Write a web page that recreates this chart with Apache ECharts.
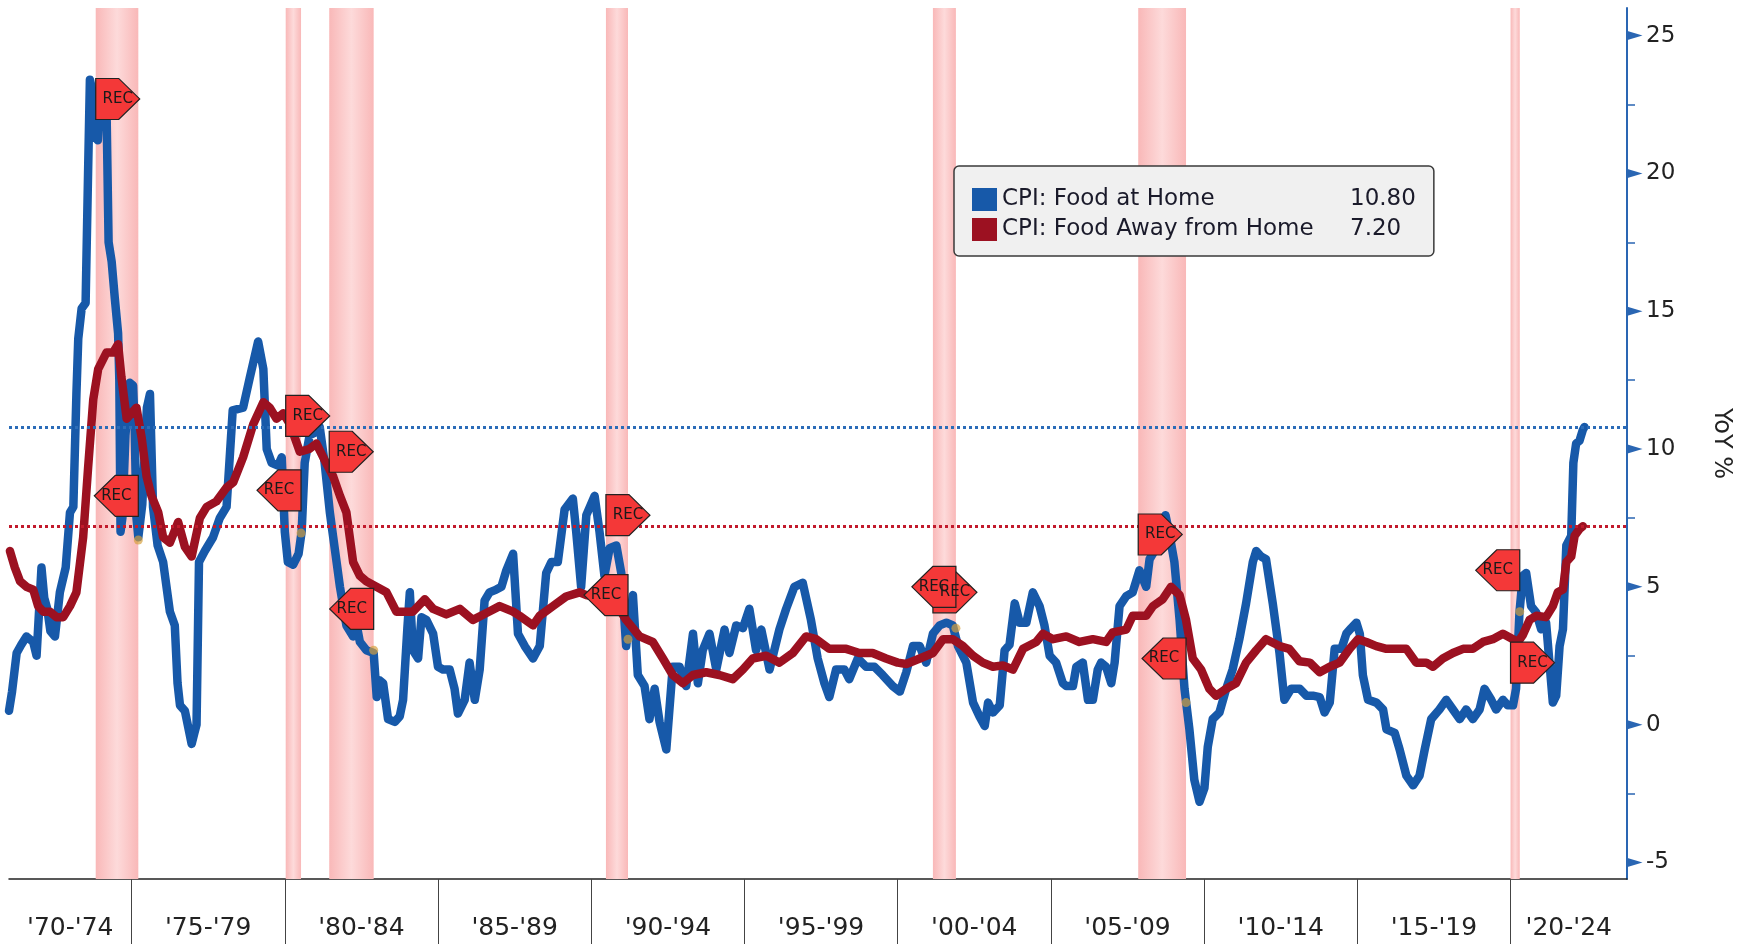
<!DOCTYPE html>
<html><head><meta charset="utf-8">
<script src="https://cdn.jsdelivr.net/npm/echarts@6/dist/echarts.min.js"></script>
<style>html,body{margin:0;padding:0;background:#fff}#c{width:1750px;height:944px}</style>
</head><body><div id="c"></div>
<script>
const seriesNames = ['CPI: Food at Home', 'CPI: Food Away from Home'];

const foodAtHome = [[1971.0,0.5],[1971.1,1.2],[1971.25,2.6],[1971.4,2.9],[1971.57,3.2],[1971.79,3.0],[1971.9,2.5],[1972.0,4.5],[1972.06,5.7],[1972.15,4.6],[1972.25,4.2],[1972.35,3.4],[1972.5,3.2],[1972.66,4.8],[1972.85,5.7],[1972.99,7.7],[1973.1,7.9],[1973.2,12.0],[1973.26,14.0],[1973.37,15.1],[1973.5,15.3],[1973.58,20.0],[1973.64,23.4],[1973.72,23.0],[1973.82,21.3],[1973.9,21.2],[1973.97,22.8],[1974.1,22.9],[1974.18,22.5],[1974.25,17.5],[1974.35,16.8],[1974.45,15.5],[1974.56,14.2],[1974.6,12.5],[1974.64,7.0],[1974.7,7.5],[1974.8,10.5],[1974.94,12.4],[1975.05,12.3],[1975.1,10.8],[1975.16,7.5],[1975.22,6.8],[1975.35,8.0],[1975.5,11.5],[1975.6,12.0],[1975.7,7.9],[1975.85,6.5],[1976.03,5.9],[1976.25,4.1],[1976.41,3.6],[1976.5,1.5],[1976.58,0.7],[1976.74,0.5],[1976.96,-0.7],[1977.05,-0.3],[1977.12,0.0],[1977.2,5.9],[1977.39,6.3],[1977.66,6.8],[1977.88,7.5],[1978.1,7.9],[1978.3,11.4],[1978.64,11.5],[1978.86,12.6],[1979.13,13.9],[1979.3,12.9],[1979.41,10.0],[1979.57,9.5],[1979.78,9.4],[1979.9,9.7],[1980.0,7.0],[1980.1,5.9],[1980.27,5.8],[1980.45,6.2],[1980.55,7.0],[1980.65,9.5],[1980.81,10.5],[1981.0,10.6],[1981.14,10.8],[1981.3,9.5],[1981.47,7.7],[1981.58,6.8],[1981.8,5.0],[1982.01,3.6],[1982.23,3.2],[1982.35,3.6],[1982.45,3.0],[1982.66,2.7],[1982.9,2.6],[1983.0,1.0],[1983.1,1.6],[1983.21,1.5],[1983.37,0.2],[1983.59,0.1],[1983.75,0.3],[1983.86,0.9],[1984.0,3.5],[1984.08,4.8],[1984.18,2.7],[1984.35,2.4],[1984.46,3.9],[1984.62,3.8],[1984.84,3.3],[1985.0,2.1],[1985.16,2.0],[1985.38,2.0],[1985.54,1.3],[1985.65,0.4],[1985.87,0.9],[1986.03,2.25],[1986.2,0.9],[1986.36,2.0],[1986.52,4.5],[1986.68,4.8],[1986.9,4.9],[1987.07,5.0],[1987.23,5.6],[1987.45,6.2],[1987.61,3.3],[1987.83,2.85],[1988.1,2.4],[1988.32,2.85],[1988.53,5.5],[1988.7,5.9],[1988.91,5.9],[1989.13,7.8],[1989.4,8.2],[1989.51,7.0],[1989.67,5.0],[1989.84,7.6],[1990.11,8.3],[1990.27,7.0],[1990.43,5.4],[1990.6,6.4],[1990.82,6.5],[1990.98,5.5],[1991.14,2.85],[1991.36,4.7],[1991.52,1.8],[1991.74,1.4],[1991.9,0.2],[1992.07,1.3],[1992.23,0.1],[1992.45,-0.9],[1992.66,2.1],[1992.88,2.1],[1993.1,1.4],[1993.32,3.3],[1993.48,1.5],[1993.64,2.7],[1993.86,3.3],[1994.08,2.0],[1994.35,3.45],[1994.51,2.6],[1994.73,3.6],[1994.95,3.5],[1995.16,4.2],[1995.38,2.7],[1995.55,3.45],[1995.82,2.0],[1996.14,3.45],[1996.36,4.2],[1996.63,5.0],[1996.9,5.15],[1997.17,3.8],[1997.39,2.4],[1997.61,1.5],[1997.77,1.0],[1997.99,2.0],[1998.26,2.0],[1998.42,1.65],[1998.7,2.4],[1998.97,2.1],[1999.24,2.1],[1999.51,1.8],[1999.84,1.4],[2000.07,1.2],[2000.28,1.9],[2000.5,2.85],[2000.72,2.85],[2000.93,2.25],[2001.15,3.3],[2001.37,3.6],[2001.59,3.7],[2001.8,3.6],[2001.97,2.85],[2002.24,2.25],[2002.46,0.8],[2002.67,0.3],[2002.84,-0.05],[2002.95,0.8],[2003.11,0.44],[2003.33,0.7],[2003.49,2.7],[2003.65,2.9],[2003.82,4.4],[2003.98,3.7],[2004.2,3.7],[2004.41,4.8],[2004.63,4.3],[2004.79,3.6],[2004.96,2.5],[2005.17,2.25],[2005.39,1.5],[2005.5,1.4],[2005.72,1.4],[2005.83,2.1],[2006.04,2.25],[2006.21,0.9],[2006.37,0.9],[2006.53,2.0],[2006.64,2.25],[2006.8,2.1],[2006.97,1.5],[2007.08,2.25],[2007.24,4.3],[2007.46,4.66],[2007.67,4.8],[2007.89,5.6],[2008.11,5.0],[2008.22,6.0],[2008.43,6.4],[2008.6,6.5],[2008.74,7.6],[2008.87,6.9],[2009.03,5.9],[2009.2,3.8],[2009.36,1.3],[2009.52,-0.17],[2009.68,-2.0],[2009.85,-2.8],[2010.01,-2.3],[2010.12,-0.8],[2010.28,0.2],[2010.5,0.44],[2010.72,1.3],[2010.93,2.0],[2011.15,3.1],[2011.37,4.4],[2011.59,5.9],[2011.7,6.3],[2011.86,6.1],[2012.02,6.0],[2012.24,4.4],[2012.46,2.6],[2012.62,0.9],[2012.84,1.3],[2013.12,1.3],[2013.34,1.05],[2013.55,1.05],[2013.77,1.0],[2013.93,0.44],[2014.1,0.8],[2014.26,2.75],[2014.48,2.75],[2014.64,3.3],[2014.8,3.5],[2014.97,3.7],[2015.08,3.3],[2015.18,1.8],[2015.35,0.9],[2015.62,0.8],[2015.84,0.55],[2015.95,-0.17],[2016.22,-0.3],[2016.38,-0.9],[2016.6,-1.85],[2016.82,-2.2],[2017.03,-1.85],[2017.2,-0.9],[2017.41,0.2],[2017.68,0.55],[2017.9,0.9],[2018.12,0.55],[2018.34,0.2],[2018.55,0.55],[2018.77,0.2],[2018.99,0.55],[2019.15,1.3],[2019.37,0.9],[2019.53,0.55],[2019.75,0.9],[2019.91,0.7],[2020.08,0.7],[2020.18,1.3],[2020.29,4.06],[2020.4,5.4],[2020.51,5.5],[2020.67,4.3],[2020.84,4.06],[2021.0,3.46],[2021.16,3.7],[2021.27,2.25],[2021.38,0.8],[2021.49,1.05],[2021.6,2.85],[2021.71,3.46],[2021.82,6.5],[2021.98,6.85],[2022.05,9.5],[2022.14,10.2],[2022.25,10.3],[2022.36,10.7],[2022.41,10.8]];

const foodAwayFromHome = [[1971.03,6.3],[1971.19,5.7],[1971.36,5.2],[1971.57,5.0],[1971.79,4.9],[1971.95,4.3],[1972.12,4.1],[1972.33,4.1],[1972.55,3.9],[1972.77,3.9],[1972.99,4.3],[1973.2,4.8],[1973.42,6.8],[1973.58,9.3],[1973.75,11.8],[1973.91,12.9],[1974.18,13.5],[1974.4,13.5],[1974.56,13.8],[1974.67,12.6],[1974.84,11.1],[1975.0,11.3],[1975.16,11.5],[1975.33,10.4],[1975.49,9.0],[1975.65,8.3],[1975.87,7.7],[1976.03,6.8],[1976.25,6.6],[1976.52,7.35],[1976.74,6.45],[1976.96,6.1],[1977.23,7.5],[1977.45,7.9],[1977.77,8.1],[1978.1,8.6],[1978.32,8.8],[1978.64,9.7],[1978.97,10.9],[1979.3,11.7],[1979.51,11.5],[1979.73,11.1],[1979.95,11.3],[1980.17,10.9],[1980.49,9.9],[1980.8,10.0],[1981.03,10.2],[1981.3,9.6],[1981.58,9.0],[1981.8,8.3],[1982.01,7.7],[1982.23,5.9],[1982.45,5.4],[1982.66,5.2],[1982.99,5.0],[1983.32,4.8],[1983.64,4.1],[1983.97,4.1],[1984.18,4.1],[1984.57,4.55],[1984.84,4.2],[1985.27,4.0],[1985.71,4.2],[1986.14,3.8],[1986.58,4.05],[1987.01,4.3],[1987.45,4.1],[1987.66,3.95],[1988.1,3.6],[1988.32,3.95],[1988.75,4.3],[1989.18,4.65],[1989.62,4.8],[1989.84,4.7],[1990.27,4.6],[1990.71,4.55],[1991.14,3.8],[1991.58,3.2],[1992.01,3.0],[1992.34,2.4],[1992.66,1.8],[1992.99,1.5],[1993.32,1.8],[1993.75,1.9],[1994.18,1.8],[1994.62,1.65],[1994.95,2.0],[1995.27,2.4],[1995.71,2.5],[1996.14,2.25],[1996.58,2.6],[1997.01,3.2],[1997.34,3.1],[1997.77,2.75],[1998.32,2.75],[1998.75,2.6],[1999.18,2.6],[1999.62,2.4],[2000.0,2.25],[2000.28,2.2],[2000.72,2.4],[2001.15,2.6],[2001.48,3.1],[2001.8,3.1],[2002.13,2.85],[2002.46,2.5],[2002.78,2.25],[2003.11,2.1],[2003.43,2.15],[2003.76,2.0],[2004.09,2.75],[2004.52,3.0],[2004.74,3.3],[2005.07,3.1],[2005.5,3.2],[2005.93,3.0],[2006.37,3.1],[2006.8,3.0],[2007.02,3.35],[2007.46,3.45],[2007.67,3.95],[2008.11,3.95],[2008.33,4.3],[2008.65,4.55],[2008.92,5.0],[2009.2,4.7],[2009.41,3.8],[2009.63,2.4],[2009.9,2.0],[2010.17,1.3],[2010.39,1.05],[2010.72,1.3],[2011.04,1.5],[2011.37,2.25],[2011.7,2.7],[2012.02,3.1],[2012.46,2.85],[2012.78,2.75],[2013.11,2.3],[2013.45,2.25],[2013.77,1.9],[2014.1,2.1],[2014.42,2.25],[2014.75,2.75],[2015.02,3.1],[2015.29,3.0],[2015.62,2.85],[2015.95,2.75],[2016.27,2.75],[2016.6,2.75],[2016.92,2.25],[2017.25,2.25],[2017.47,2.1],[2017.79,2.4],[2018.12,2.6],[2018.45,2.75],[2018.77,2.75],[2019.1,3.0],[2019.42,3.1],[2019.75,3.3],[2020.08,3.1],[2020.24,3.0],[2020.4,3.25],[2020.62,3.8],[2020.84,3.95],[2021.16,3.9],[2021.38,4.3],[2021.54,4.8],[2021.71,4.9],[2021.82,5.9],[2021.98,6.1],[2022.09,6.85],[2022.25,7.1],[2022.36,7.2]];

// recession periods [start, end] (decimal years)
const recessions = [[1973.83,1975.22],[1980.03,1980.53],[1981.45,1982.9],[1990.48,1991.2],[2001.15,2001.9],[2007.85,2009.41],[2020.0,2020.3]];
// REC flags: [anchor year, value, direction]
const recFlags = [[1973.83,22.7,'R'],[1975.22,8.3,'L'],[1980.03,11.2,'R'],[1980.53,8.5,'L'],[1981.45,9.9,'R'],[1982.9,4.2,'L'],[1990.48,7.6,'R'],[1991.2,4.7,'L'],[2001.15,4.8,'R'],[2001.9,5.0,'L'],[2007.85,6.9,'R'],[2009.41,2.4,'L'],[2020.0,2.25,'R'],[2020.3,5.6,'L']];
// event dots at recession ends
const recEndDots = [[1975.22,6.7],[1980.53,6.95],[1982.9,2.7],[1991.2,3.1],[2001.9,3.5],[2009.41,0.8],[2020.3,4.1]];

const periodStarts = [1970,1975,1980,1985,1990,1995,2000,2005,2010,2015,2020];
const periodLabels = ["'70-'74","'75-'79","'80-'84","'85-'89","'90-'94","'95-'99","'00-'04","'05-'09","'10-'14","'15-'19","'20-'24"];
const yMajorTicks = [-5,0,5,10,15,20,25];
const yMinorTicks = [-2.5,2.5,7.5,12.5,17.5,22.5];

const X_MIN = 1971, X_MAX = 2023.8, Y_MIN = -5.6, Y_MAX = 26;
const BLUE = '#1759a9', RED = '#9c1121', AXIS_BLUE = '#2a66b3';
const FONT = 'DejaVu Sans';

const separators = periodStarts.filter(s => s > X_MIN && s < X_MAX);
const labelCenters = periodStarts.map(s => (Math.max(s, X_MIN) + Math.min(s + 5, X_MAX)) / 2);

const lastHome = foodAtHome[foodAtHome.length - 1][1];
const lastAway = foodAwayFromHome[foodAwayFromHome.length - 1][1];
const lastVals = {};
lastVals[seriesNames[0]] = lastHome;
lastVals[seriesNames[1]] = lastAway;

const FLAG_R = 'path://M0,0 L23,0 L44,20.5 L23,41 L0,41 Z';
const FLAG_L = 'path://M21,0 L44,0 L44,41 L21,41 L0,20.5 Z';

const bandColor = new echarts.graphic.LinearGradient(0, 0, 1, 0, [
  {offset: 0, color: '#f9b8b8'}, {offset: 0.5, color: '#fddada'}, {offset: 1, color: '#f9b8b8'}
]);

const chart = echarts.init(document.getElementById('c'), null, {renderer: 'canvas'});
chart.setOption({
  animation: false,
  backgroundColor: '#ffffff',
  textStyle: {fontFamily: FONT},
  grid: {left: 9, right: 123, top: 8, bottom: 65, containLabel: false},
  legend: {
    data: seriesNames,
    orient: 'vertical',
    left: 954, top: 166,
    padding: [22, 18, 15, 18],
    itemGap: 7,
    itemWidth: 25, itemHeight: 23,
    icon: 'rect',
    selectedMode: false,
    backgroundColor: '#f0f0f0',
    borderColor: '#3a3a3a', borderWidth: 1.5, borderRadius: 5,
    textStyle: {fontFamily: FONT, fontSize: 23, color: '#1a1a2a',
      rich: {n: {width: 348, fontSize: 23, fontFamily: FONT, color: '#1a1a2a'},
             v: {fontSize: 23, fontFamily: FONT, color: '#1a1a2a'}}},
    formatter: name => '{n|' + name + '}{v|' + lastVals[name].toFixed(2) + '}'
  },
  xAxis: {
    type: 'value', min: X_MIN, max: X_MAX,
    axisLine: {show: true, onZero: false, lineStyle: {color: '#222', width: 1.5}},
    splitLine: {show: false},
    axisTick: {show: true, customValues: separators, length: 65, inside: false, lineStyle: {color: '#444', width: 1}},
    axisLabel: {
      customValues: labelCenters, margin: 37, fontSize: 25, color: '#222', fontFamily: FONT,
      formatter: (v, i) => periodLabels[labelCenters.indexOf(v)]
    }
  },
  yAxis: [{
    type: 'value', position: 'right', min: Y_MIN, max: Y_MAX,
    axisLine: {show: true, lineStyle: {color: AXIS_BLUE, width: 2}},
    splitLine: {show: false},
    axisTick: {show: false},
    axisLabel: {customValues: yMajorTicks, margin: 19, fontSize: 23, color: '#222', fontFamily: FONT},
    name: 'YoY %', nameLocation: 'middle', nameRotate: -90, nameGap: 82,
    nameTextStyle: {fontSize: 24, color: '#222', fontFamily: FONT}
  }, {
    type: 'value', position: 'right', min: Y_MIN, max: Y_MAX,
    axisLine: {show: false},
    splitLine: {show: false},
    axisTick: {show: true, customValues: yMinorTicks, length: 8, lineStyle: {color: AXIS_BLUE, width: 1.5}},
    axisLabel: {show: false}
  }],
  series: [
    {
      name: 'recessions', type: 'line', data: [], z: 0, silent: true,
      markArea: {silent: true, itemStyle: {color: bandColor},
        data: recessions.map(r => [{xAxis: r[0]}, {xAxis: r[1]}])}
    },
    {
      name: seriesNames[0], type: 'line', data: foodAtHome, showSymbol: false, z: 3,
      itemStyle: {color: BLUE},
      lineStyle: {color: BLUE, width: 8.5, cap: 'round', join: 'round'},
      markLine: {silent: true, symbol: ['none', 'none'], label: {show: false},
        lineStyle: {color: '#2b6cb8', type: [3, 3], width: 3},
        data: [{yAxis: lastHome}]}
    },
    {
      name: seriesNames[1], type: 'line', data: foodAwayFromHome, showSymbol: false, z: 4,
      itemStyle: {color: RED},
      lineStyle: {color: RED, width: 8.5, cap: 'round', join: 'round'},
      markLine: {silent: true, symbol: ['none', 'none'], label: {show: false},
        lineStyle: {color: '#c21a2c', type: [3, 3], width: 3},
        data: [{yAxis: lastAway}]}
    },
    {
      name: 'axisTicks', type: 'scatter', yAxisIndex: 0, z: 5, silent: true, clip: false,
      data: yMajorTicks.map(t => [X_MAX, t]),
      symbol: 'triangle', symbolSize: [9, 15], symbolRotate: -90, symbolOffset: [8, 0],
      itemStyle: {color: AXIS_BLUE, opacity: 1}
    },
    {
      name: 'recDots', type: 'scatter', z: 6, silent: true,
      data: recEndDots, symbol: 'circle', symbolSize: 9,
      itemStyle: {color: 'rgba(214,160,60,0.85)'}
    },
    {
      name: 'recFlags', type: 'scatter', z: 7, silent: true, clip: false,
      data: recFlags.map(f => ({
        value: [f[0], f[1]],
        symbol: f[2] === 'R' ? FLAG_R : FLAG_L,
        symbolOffset: f[2] === 'R' ? ['50%', 0] : ['-50%', 0]
      })),
      symbolSize: [44, 41],
      itemStyle: {color: '#f43838', borderColor: '#222', borderWidth: 1.2, opacity: 1},
      label: {show: true, formatter: 'REC', position: 'inside', color: '#1a1a1a', fontSize: 15, fontFamily: FONT}
    }
  ]
});
</script>
</body></html>
